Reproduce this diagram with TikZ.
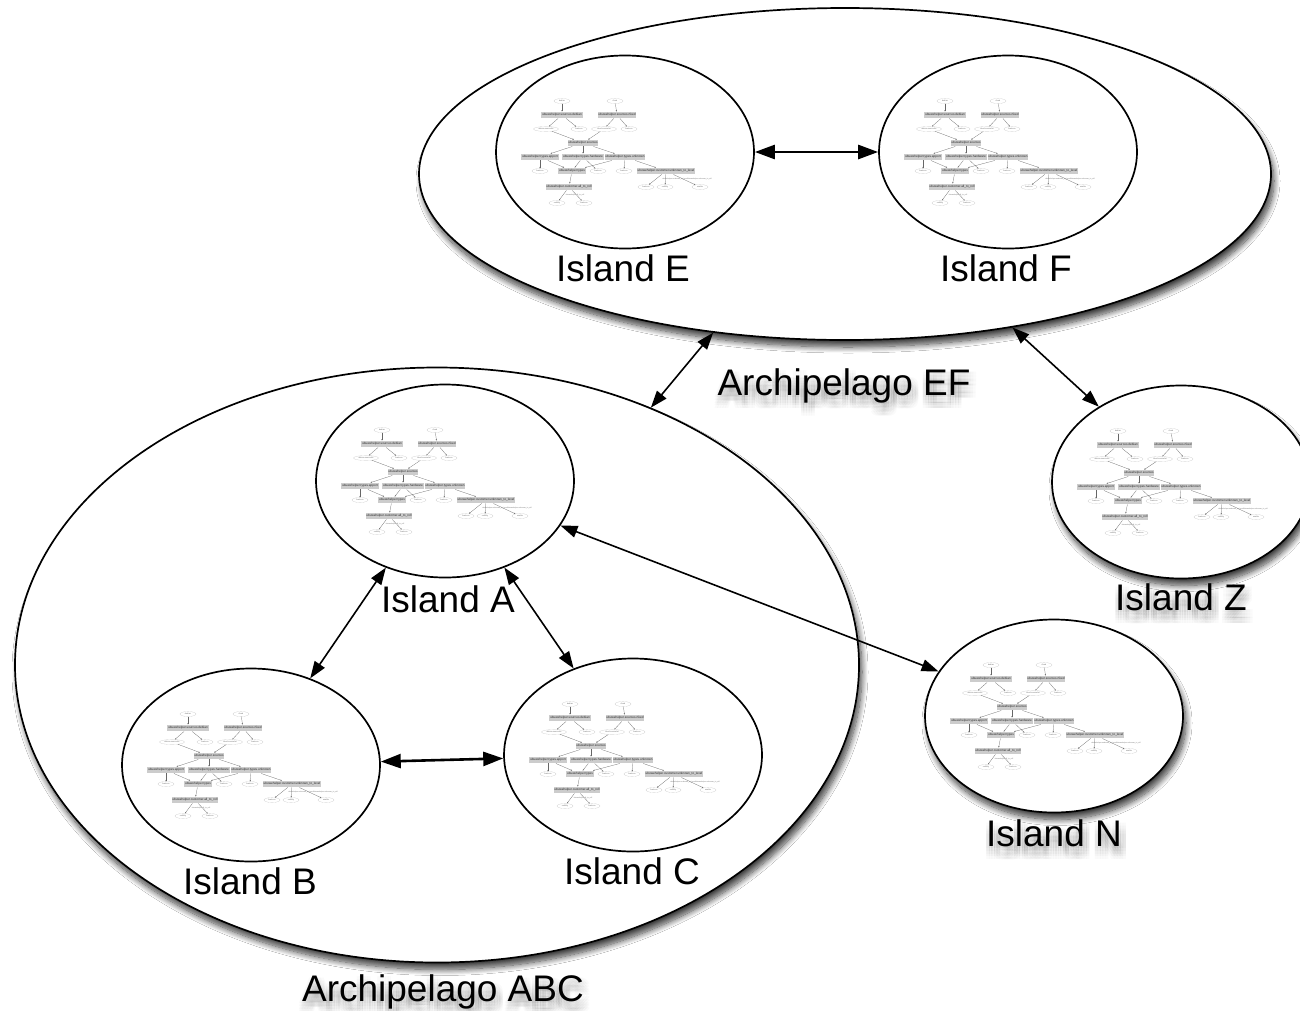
\documentclass[tikz,border=0pt]{standalone}
\usepackage{fontspec}
\setmainfont{Liberation Sans}
\usetikzlibrary{shapes.geometric,arrows.meta,shadows.blur,calc}

\tikzset{
  % islands and archipelagos
  isle/.style={ellipse, draw=black, line width=1.7pt, fill=white, inner sep=0pt,
    minimum width=258pt, minimum height=193pt},
  shade/.style={blur shadow={shadow xshift=3pt, shadow yshift=-7pt,
    shadow blur radius=6pt, shadow blur steps=12, shadow opacity=75}},
  lbl/.style={font=\fontsize{37}{40}\selectfont, anchor=base, inner sep=0pt},
  link/.style={line width=1.6pt, {Triangle[length=17pt,width=12pt]}-{Triangle[length=17pt,width=12pt]}},
  boldlink/.style={line width=2.6pt, {Triangle[length=20pt,width=14pt]}-{Triangle[length=20pt,width=14pt]}},
  % the small module graph drawn in every island
  tbox/.style={fill=black!20, inner sep=0.8pt, minimum height=6.5pt,
    font=\fontsize{3.1}{3.6}\selectfont, text=black!85},
  tell/.style={ellipse, draw=black!25, line width=0.15pt, fill=white, inner sep=0.2pt,
    minimum height=5pt, minimum width=16pt, font=\fontsize{2}{2.4}\selectfont, text=black!55},
  tedge/.style={draw=black!60, line width=0.25pt, -{Stealth[length=1.5pt,width=1.2pt]}},
  tnote/.style={font=\fontsize{1.8}{2}\selectfont, text=black!55, inner sep=0pt},
  pics/tree/.style={code={
    \node[tell] (-s1) at (-63,-51) {debian};
    \node[tell] (-s2) at (-10,-51) {rfeed};
    \node[tbox] (-b1) at (-63,-37) {ubuwehelper.sources.debian};
    \node[tbox] (-b2) at (-8,-37) {ubuwehelper.sources.rfeed};
    \node[tell, minimum width=25pt] (-e1) at (-79,-23) {debian.sourcelist};
    \node[tell] (-e2) at (-46,-23) {features};
    \node[tell, minimum width=25pt] (-e3) at (-21,-23) {rfeed.sourcelist};
    \node[tell] (-e4) at (4,-23) {features};
    \node[tbox] (-b3) at (-42,-9) {ubuwehelper.sources};
    \node[tbox] (-b4) at (-85,5) {ubuwehelper.types.apport};
    \node[tbox] (-b5) at (-42,5) {ubuwehelper.types.hardware};
    \node[tbox] (-b6) at (0,5) {ubuwehelper.types.unknown};
    \node[tell] (-e5) at (-85,19) {features};
    \node[tbox] (-b7) at (-53,19) {ubuwehelper.types};
    \node[tell] (-e6) at (-27,19) {features};
    \node[tell] (-e7) at (-1,19) {features};
    \node[tbox] (-b8) at (41,19) {ubuwehelper.customer.unknown\_to\_level};
    \node[tbox] (-b9) at (-56,35) {ubuwehelper.customer.all\_to\_roll};
    \node[tell] (-e8) at (21,35) {features};
    \node[tell] (-e9) at (40,35) {validity};
    \node[tell] (-e10) at (75,35) {enable};
    \node[tell] (-e11) at (-68,51) {validity};
    \node[tell] (-e12) at (-41,51) {features};
    \node[tnote] (-l1) at (-50,43.5) {ubuwehelper.all\_to\_roll};
    \node[tnote] (-l2) at (62,27) {ubuwehelper.unknown\_to\_level/ubuwehelper.unknown\_to\_roll};
    \foreach \a/\b in {s1/b1,s2/b2,b1/e1,b1/e2,b2/e3,b2/e4,e1/b3,e3/b3,
        b3/b4,b3/b5,b3/b6,b4/e5,b4/b7,b5/b7,b5/e6,b6/b7,b6/e7,b6/b8,
        b7/b9,b9/e11,b9/e12,b8/e8,b8/e9,b8/e10}
      \draw[tedge] (-\a) -- (-\b);
  }},
}

% label with a soft drop shadow under it
\newcommand\castlabel[3]{%
  \foreach \i in {-2,...,2}{\foreach \j in {-2,...,2}{%
    \node[lbl, text=black, text opacity=0.02] (#1-sh\i\j) at ($(#2)+(2+2.6*\i,8+2.6*\j)$) {#3};}}%
  \node[lbl] (#1) at (#2) {#3};}

\begin{document}
\begin{tikzpicture}[x=1pt, y=-1pt]
  \useasboundingbox (0,0) rectangle (1300,1010);
  \fill[white] (0,0) rectangle (1300,1010);

  % archipelagos
  \node[isle, shade, minimum width=852pt, minimum height=332pt] (EF) at (845,174) {};
  \node[isle, shade, minimum width=844pt, minimum height=595pt] (ABC) at (437,665) {};

  % islands
  \node[isle] (E) at (625,152) {};
  \node[isle] (F) at (1008,152) {};
  \node[isle] (A) at (445,481) {};
  \node[isle] (B) at (251,765) {};
  \node[isle] (C) at (633,755) {};
  \node[isle, shade] (Z) at (1181,482) {};
  \node[isle, shade] (N) at (1054,716) {};

  % module graphs inside the islands
  \pic (tE) at (E) {tree};
  \pic (tF) at (F) {tree};
  \pic (tA) at (A) {tree};
  \pic (tB) at (B) {tree};
  \pic (tC) at (C) {tree};
  \pic (tZ) at (Z) {tree};
  \pic (tN) at (N) {tree};

  % labels
  \node[lbl] (labE) at (623,281) {Island E};
  \node[lbl] (labF) at (1006,281) {Island F};
  \node[lbl] (labA) at (448,612) {Island A};
  \node[lbl] (labB) at (250,894) {Island B};
  \node[lbl] (labC) at (632,884) {Island C};
  \castlabel{labZ}{1181,610}{Island Z}
  \castlabel{labN}{1054,846}{Island N}
  \castlabel{labEF}{844,395}{Archipelago EF}
  \castlabel{labABC}{443,1001}{Archipelago ABC}

  % connections
  \draw[boldlink] (E) -- (F);
  \draw[boldlink] (B) -- (C);
  \draw[link] (A) -- (B);
  \draw[link] (A) -- (C);
  \draw[link] (A) -- (N);
  \draw[link] (EF) -- (ABC);
  \draw[link] (EF) -- (Z);
\end{tikzpicture}
\end{document}
